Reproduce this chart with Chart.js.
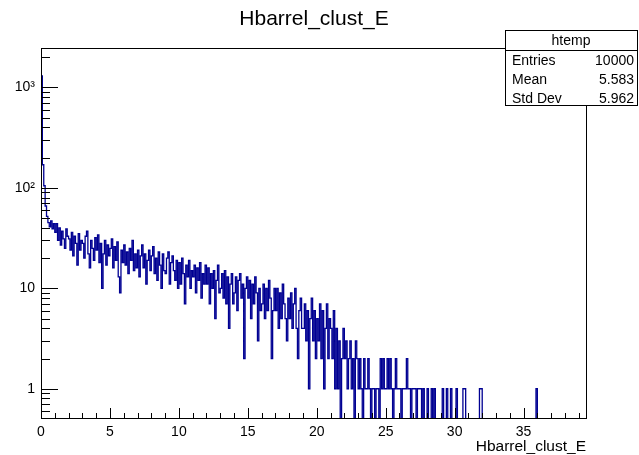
<!DOCTYPE html>
<html>
<head>
<meta charset="utf-8">
<script src="https://cdn.jsdelivr.net/npm/chart.js@4.4.1/dist/chart.umd.min.js"></script>
<style>
  html, body { margin: 0; padding: 0; background: #fff; }
  #wrap { width: 639px; height: 455px; }
</style>
</head>
<body>
<div id="wrap"><canvas id="histChart" width="639" height="455"></canvas></div>
<script>
const histTitle = "Hbarrel_clust_E";
const xTitle = "Hbarrel_clust_E";

// histogram binning: 396 bins of 0.1 from 0 to 39.6
const xMin = 0;
const xMax = 39.6;
const binWidth = 0.1;
const yMin = 0.5;
const yMax = 2470;

// bin contents, one row per unit of x
const counts = [
  1300, 170, 105, 66, 52, 45, 41, 47, 39, 44,
  36, 44, 30, 40, 27, 37, 31, 25, 39, 33,
  31, 24, 36, 21, 33, 28, 17, 35, 24, 30,
  28, 20, 33, 37, 22, 16, 30, 25, 19, 32,
  24, 34, 18, 28, 10, 22, 30, 17, 27, 21,
  25, 31, 16, 26, 19, 29, 13, 9, 24, 18,
  27, 17, 23, 14, 25, 19, 30, 15, 22, 16,
  24, 13, 21, 27, 16, 22, 11, 19, 24, 15,
  21, 26, 14, 20, 12, 23, 17, 10, 22, 15,
  14, 20, 23, 11, 18, 21, 15, 12, 19, 10,
  18, 11, 20, 14, 7, 17, 13, 19, 10, 15,
  13, 17, 9, 16, 12, 18, 8, 14, 11, 17,
  11, 16, 7, 14, 10, 15, 5, 12, 17, 9,
  10, 14, 8, 15, 7, 13, 4, 11, 14, 7,
  9, 13, 6, 12, 14, 8, 11, 2, 10, 13,
  8, 12, 5, 11, 7, 13, 9, 3, 10, 6,
  7, 11, 5, 10, 6, 12, 8, 2, 6, 10,
  6, 10, 4, 9, 5, 11, 7, 5, 3, 8,
  5, 9, 4, 7, 10, 4, 2, 6, 8, 4,
  4, 7, 3, 6, 1, 5, 8, 3, 6, 2,
  5, 3, 7, 2, 6, 1, 4, 7, 2, 5,
  4, 2, 6, 1, 4, 1, 3, 0, 2, 4,
  2, 3, 1, 2, 3, 1, 2, 0, 3, 2,
  1, 2, 1, 0, 2, 1, 1, 2, 1, 0,
  1, 1, 0, 1, 1, 0, 2, 1, 2, 1,
  1, 2, 1, 2, 1, 0, 1, 2, 1, 1,
  1, 0, 1, 1, 1, 2, 1, 1, 0, 1,
  1, 1, 0, 1, 1, 1, 0, 1, 0, 0,
  1, 0, 0, 1, 0, 1, 0, 0, 0, 0,
  0, 1, 0, 0, 1, 0, 0, 1, 0, 0,
  0, 1, 0, 0, 0, 0, 1, 1, 0, 0,
  0, 0, 0, 0, 0, 0, 0, 0, 1, 1,
  0, 0, 0, 0, 0, 0, 0, 0, 0, 0,
  0, 0, 0, 0, 0, 0, 0, 0, 0, 0,
  0, 0, 0, 0, 0, 0, 0, 0, 0, 0,
  0, 0, 0, 0, 0, 0, 0, 0, 0, 1,
  0, 0, 0, 0, 0, 0, 0, 0, 0, 0,
  0, 0, 0, 0, 0, 0, 0, 0, 0, 0,
  0, 0, 0, 0, 0, 0, 0, 0, 0, 0,
  0, 0, 0, 0, 0, 0
];

const xTickValues = [0, 5, 10, 15, 20, 25, 30, 35];
const yTickValues = [1, 10, 100, 1000];
const yTickLabels = ["1", "10", "10²", "10³"];

const statsName = "htemp";
const statsLabels = ["Entries", "Mean", "Std Dev"];
const statsValues = ["10000", "5.583", "5.962"];

const lineColor = "#000092";
const fontFamily = "'Liberation Sans', Arial, sans-serif";

// step outline like ROOT: empty bins go below the axis and get clipped
const floorValue = 0.1;
const stepPoints = [{ x: xMin, y: floorValue }];
counts.forEach((c, i) => {
  stepPoints.push({ x: xMin + i * binWidth, y: c > 0 ? c : floorValue });
});
stepPoints.push({ x: xMax, y: floorValue });

// minor ticks
const xMinor = [];
for (let v = 0; v < xMax; v += 1) xMinor.push(v);
const yMinor = [];
for (let d = 0.1; d <= 1000; d *= 10) {
  for (let k = 2; k <= 9; k++) {
    const v = d * k;
    if (v > yMin && v < yMax) yMinor.push(v);
  }
}

const rootFrame = {
  id: "rootFrame",
  afterDatasetsDraw(chart) {
    const { ctx, chartArea: a, scales } = chart;
    const x = scales.x, y = scales.y;
    ctx.save();
    ctx.strokeStyle = "#000";
    ctx.lineWidth = 1;

    // frame
    ctx.strokeRect(a.left + 0.5, a.top + 0.5, a.right - a.left - 1, a.bottom - a.top - 1);

    ctx.beginPath();
    // y ticks, pointing into the frame
    yMinor.forEach(v => {
      const py = Math.round(y.getPixelForValue(v)) + 0.5;
      ctx.moveTo(a.left, py); ctx.lineTo(a.left + 9, py);
    });
    yTickValues.forEach(v => {
      const py = Math.round(y.getPixelForValue(v)) + 0.5;
      ctx.moveTo(a.left, py); ctx.lineTo(a.left + 17, py);
    });
    // x ticks
    xMinor.forEach(v => {
      const px = Math.round(x.getPixelForValue(v)) + 0.5;
      ctx.moveTo(px, a.bottom); ctx.lineTo(px, a.bottom - 6);
    });
    xTickValues.forEach(v => {
      const px = Math.round(x.getPixelForValue(v)) + 0.5;
      ctx.moveTo(px, a.bottom); ctx.lineTo(px, a.bottom - 11);
    });
    ctx.stroke();

    // titles
    ctx.fillStyle = "#000";
    ctx.font = "21px " + fontFamily;
    ctx.textAlign = "center";
    ctx.textBaseline = "alphabetic";
    ctx.fillText(histTitle, 314, 25);

    ctx.font = "15.5px " + fontFamily;
    ctx.textAlign = "right";
    ctx.fillText(xTitle, a.right - 1, 451);

    // stats box
    const bx = 505.5, by = 30.5, bw = 132, bh = 75;
    ctx.fillStyle = "#fff";
    ctx.fillRect(bx, by, bw, bh);
    ctx.strokeRect(bx, by, bw, bh);
    ctx.beginPath();
    ctx.moveTo(bx, 50.5); ctx.lineTo(bx + bw, 50.5);
    ctx.stroke();

    ctx.fillStyle = "#000";
    ctx.font = "14px " + fontFamily;
    ctx.textAlign = "center";
    ctx.fillText(statsName, 571, 45);
    statsLabels.forEach((lab, i) => {
      const base = 65 + i * 19;
      ctx.textAlign = "left";
      ctx.fillText(lab, 512, base);
      ctx.textAlign = "right";
      ctx.fillText(statsValues[i], 634, base);
    });
    ctx.restore();
  }
};

Chart.defaults.font.family = fontFamily;
Chart.defaults.color = "#000";

new Chart(document.getElementById("histChart"), {
  type: "line",
  data: {
    datasets: [{
      label: histTitle,
      data: stepPoints,
      stepped: "before",
      borderColor: lineColor,
      borderWidth: 1.3,
      pointRadius: 0,
      fill: false,
      clip: 0
    }]
  },
  options: {
    responsive: false,
    animation: false,
    events: [],
    layout: { padding: { left: 0, right: 52, top: 48, bottom: 0 } },
    plugins: {
      legend: { display: false },
      title: { display: false },
      tooltip: { enabled: false }
    },
    scales: {
      x: {
        type: "linear",
        min: xMin,
        max: xMax,
        grid: { display: false, drawTicks: false },
        border: { display: false },
        afterBuildTicks: s => { s.ticks = xTickValues.map(v => ({ value: v })); },
        afterFit: s => { s.height = 36; },
        ticks: {
          padding: 5,
          maxRotation: 0,
          font: { size: 14 },
          callback: v => String(v)
        }
      },
      y: {
        type: "logarithmic",
        min: yMin,
        max: yMax,
        grid: { display: false, drawTicks: false },
        border: { display: false },
        afterBuildTicks: s => { s.ticks = yTickValues.map(v => ({ value: v })); },
        afterFit: s => { s.width = 41; },
        ticks: {
          padding: 6,
          font: { size: 14 },
          callback: v => {
            const i = yTickValues.indexOf(v);
            return i >= 0 ? yTickLabels[i] : "";
          }
        }
      }
    }
  },
  plugins: [rootFrame]
});
</script>
</body>
</html>
